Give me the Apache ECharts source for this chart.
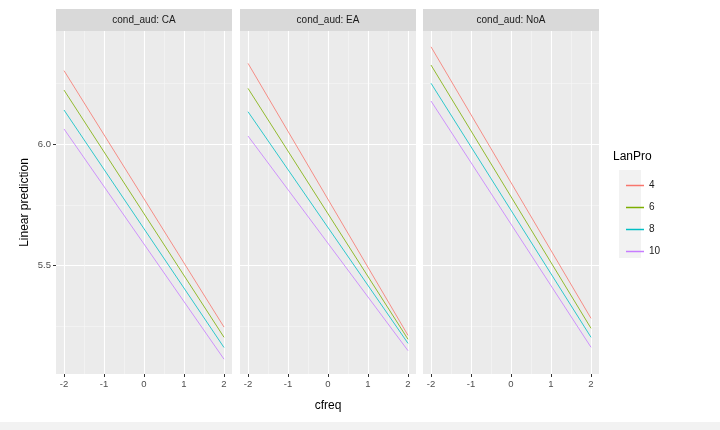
<!DOCTYPE html>
<html>
<head>
<meta charset="utf-8">
<script src="https://cdn.jsdelivr.net/npm/echarts@6/dist/echarts.min.js"></script>
<style>
  html, body { margin: 0; padding: 0; background: #fff; }
  #main { width: 720px; height: 430px; }
</style>
</head>
<body>
<div id="main"></div>
<script>
// 数据：每个面板四条直线，cfreq 从 -2 到 2
var panels = ['CA', 'EA', 'NoA'];
var lanPro = ['4', '6', '8', '10'];
var cfreq = [-2, 2];
var caStart = [6.302, 6.222, 6.140, 6.062];
var caEnd = [5.247, 5.205, 5.163, 5.115];
var eaStart = [6.332, 6.229, 6.133, 6.033];
var eaEnd = [5.213, 5.197, 5.180, 5.150];
var noaStart = [6.400, 6.325, 6.250, 6.177];
var noaEnd = [5.283, 5.242, 5.205, 5.164];
var xTicks = [-2, -1, 0, 1, 2];
var xMinor = [-1.5, -0.5, 0.5, 1.5];
var yTicks = [5.5, 6.0];
var yMinor = [5.25, 5.75, 6.25];

var colors = ['#F8766D', '#7CAE00', '#00BFC4', '#C77CFF'];
var starts = [caStart, eaStart, noaStart];
var ends = [caEnd, eaEnd, noaEnd];

// 面板位置
var panelLeft = [56, 240, 423];
var panelWidth = 176;
var plotTop = 31;
var plotHeight = 343;

var chartDom = document.getElementById('main');
var myChart = echarts.init(chartDom, null, { renderer: 'canvas' });

var grids = [], xAxes = [], yAxes = [], series = [], graphics = [];
for (var p = 0; p < 3; p++) {
    grids.push({
        left: panelLeft[p], top: plotTop, width: panelWidth, height: plotHeight,
        show: true, backgroundColor: '#EBEBEB', borderWidth: 0
    });
    // 主刻度轴
    xAxes.push({
        type: 'value', gridIndex: p, min: -2.2, max: 2.2,
        name: p == 1 ? 'cfreq' : '', nameLocation: 'middle', nameGap: 26,
        nameTextStyle: { fontSize: 12, color: '#000', fontFamily: 'Liberation Sans' },
        axisLine: { show: false, onZero: false },
        axisTick: { show: true, length: 3, lineStyle: { color: '#333' }, customValues: xTicks },
        axisLabel: { customValues: xTicks, fontSize: 9.5, color: '#4D4D4D', margin: 5, fontFamily: 'Liberation Sans',
            formatter: function (v) { return String(v); } },
        splitLine: { show: true, lineStyle: { color: '#FFFFFF', width: 1.1 } }
    });
    // 次网格线
    xAxes.push({
        type: 'value', gridIndex: p, min: -2.2, max: 2.2,
        axisLine: { show: false, onZero: false },
        axisTick: { show: false, customValues: xMinor },
        axisLabel: { show: false, customValues: xMinor },
        splitLine: { show: true, lineStyle: { color: '#F7F7F7', width: 0.6 } }
    });
    yAxes.push({
        type: 'value', gridIndex: p, min: 5.054, max: 6.465,
        name: p == 0 ? 'Linear prediction' : '', nameLocation: 'middle', nameGap: 25,
        nameTextStyle: { fontSize: 12, color: '#000', fontFamily: 'Liberation Sans' },
        axisLine: { show: false, onZero: false },
        axisTick: { show: p == 0, length: 3, lineStyle: { color: '#333' }, customValues: yTicks },
        axisLabel: { show: p == 0, customValues: yTicks, fontSize: 9.5, color: '#4D4D4D', margin: 5, fontFamily: 'Liberation Sans',
            formatter: function (v) { return v.toFixed(1); } },
        splitLine: { show: true, lineStyle: { color: '#FFFFFF', width: 1.1 } }
    });
    yAxes.push({
        type: 'value', gridIndex: p, min: 5.054, max: 6.465,
        axisLine: { show: false, onZero: false },
        axisTick: { show: false, customValues: yMinor },
        axisLabel: { show: false, customValues: yMinor },
        splitLine: { show: true, lineStyle: { color: '#F7F7F7', width: 0.6 } }
    });
    for (var i = 0; i < lanPro.length; i++) {
        series.push({
            name: lanPro[i],
            type: 'line',
            xAxisIndex: p * 2,
            yAxisIndex: p * 2,
            data: [[cfreq[0], starts[p][i]], [cfreq[1], ends[p][i]]],
            showSymbol: false,
            symbol: 'none',
            silent: true,
            color: colors[i],
            lineStyle: { width: 1, color: colors[i], opacity: 0.8 }
        });
    }
    // 分面标签条
    graphics.push({
        type: 'rect', left: panelLeft[p], top: 9,
        shape: { width: panelWidth, height: 22 },
        style: { fill: '#D9D9D9' }
    });
    graphics.push({
        type: 'text', x: panelLeft[p] + panelWidth / 2, y: 20,
        style: { text: 'cond_aud: ' + panels[p], fill: '#1A1A1A', font: '10px "Liberation Sans"',
            textAlign: 'center', textVerticalAlign: 'middle' }
    });
}
// 图例背景 & 底部条
graphics.push({ type: 'rect', left: 619, top: 170, shape: { width: 22, height: 88 }, style: { fill: '#F2F2F2' } });
graphics.push({ type: 'text', left: 613, top: 151, style: { text: 'LanPro', fill: '#000', font: '12px "Liberation Sans"' } });
graphics.push({ type: 'rect', left: 0, top: 422, shape: { width: 720, height: 8 }, style: { fill: '#F2F2F2' } });

var option = {
    animation: false,
    backgroundColor: '#FFFFFF',
    grid: grids,
    xAxis: xAxes,
    yAxis: yAxes,
    legend: {
        data: lanPro.map(function (n, i) { return { name: n, itemStyle: { color: colors[i] } }; }),
        orient: 'vertical',
        left: 621, top: 174,
        icon: 'rect',
        itemWidth: 18, itemHeight: 1.5,
        itemGap: 9,
        selectedMode: false,
        textStyle: { fontSize: 10, color: '#1A1A1A', lineHeight: 13, fontFamily: 'Liberation Sans' }
    },
    graphic: graphics,
    series: series
};
// 使用刚指定的配置项和数据显示图表。
myChart.setOption(option);
</script>
</body>
</html>
